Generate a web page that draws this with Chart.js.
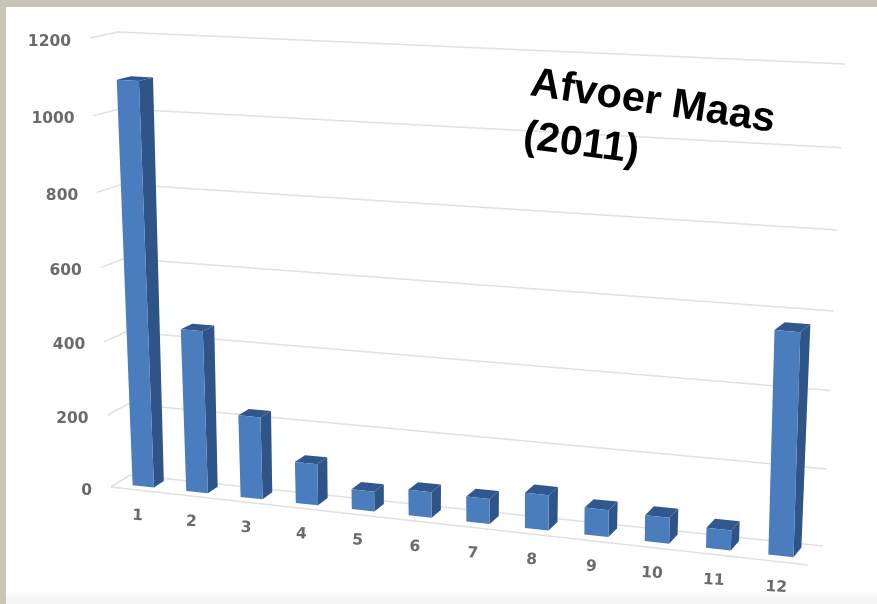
<!DOCTYPE html>
<html>
<head>
<meta charset="utf-8">
<title>Afvoer Maas (2011)</title>
<script src="https://cdn.jsdelivr.net/npm/chart.js@4"></script>
<style>
    html, body { margin: 0; padding: 0; background: #c8c5b9; overflow: hidden; }
    #panel {
        position: absolute; left: 6px; top: 7px; width: 871px; height: 597px;
        background: linear-gradient(to bottom, #fff 0, #fff 583px, #f5f5f5 592px, #f5f5f5 100%);
    }
    #afvoer { position: absolute; left: 0; top: 0; filter: blur(0.6px); }
</style>
</head>
<body>
<div id="panel"></div>
<canvas id="afvoer" width="877" height="604"></canvas>
<script>
const months = ['1', '2', '3', '4', '5', '6', '7', '8', '9', '10', '11', '12'];
const afvoer = [1090, 443, 224, 112, 54, 69, 67, 94, 71, 68, 52, 570];
const yTicks = [0, 200, 400, 600, 800, 1000, 1200];
const titleLines = ['Afvoer Maas', '(2011)'];

// corners of the tilted box: bottom-left, bottom-right, top-right, top-left
const backWall = [[130, 475], [823, 546], [845, 64], [118, 32]];
const frontWall = [[111, 487], [808, 565], [821, 75], [90, 38]];
const barFront = 0.7;
const barBack = 0.18;

function homography(q) {
    const [[x0, y0], [x1, y1], [x2, y2], [x3, y3]] = q;
    const sx = x0 - x1 + x2 - x3, sy = y0 - y1 + y2 - y3;
    const dx1 = x1 - x2, dx2 = x3 - x2, dy1 = y1 - y2, dy2 = y3 - y2;
    const den = dx1 * dy2 - dx2 * dy1;
    const g = (sx * dy2 - dx2 * sy) / den;
    const h = (dx1 * sy - sx * dy1) / den;
    const a = x1 - x0 + g * x1, b = x3 - x0 + h * x3;
    const d = y1 - y0 + g * y1, e = y3 - y0 + h * y3;
    return (u, v) => {
        const t = g * u + h * v + 1;
        return [(a * u + b * v + x0) / t, (d * u + e * v + y0) / t];
    };
}

const backMap = homography(backWall);
const frontMap = homography(frontWall);

// u along the months, v up the values, w from back wall (0) to front (1)
function project(u, v, w) {
    const p = backMap(u, v), q = frontMap(u, v);
    return [p[0] + (q[0] - p[0]) * w, p[1] + (q[1] - p[1]) * w];
}

function line(ctx, a, b) {
    ctx.beginPath();
    ctx.moveTo(a[0], a[1]);
    ctx.lineTo(b[0], b[1]);
    ctx.stroke();
}

function face(ctx, color, pts) {
    ctx.fillStyle = color;
    ctx.beginPath();
    pts.forEach((p, i) => i ? ctx.lineTo(p[0], p[1]) : ctx.moveTo(p[0], p[1]));
    ctx.closePath();
    ctx.fill();
}

const tiltPlugin = {
    id: 'tilt',
    beforeDatasetsDraw(chart) {
        const ctx = chart.ctx, y = chart.scales.y, x = chart.scales.x, area = chart.chartArea;
        ctx.save();
        ctx.strokeStyle = '#e0e0e0';
        ctx.lineWidth = 1.5;
        y.ticks.forEach(t => {
            const v = (area.bottom - y.getPixelForValue(t.value)) / area.height;
            line(ctx, project(0, v, 1), project(0, v, 0));
            line(ctx, project(0, v, 0), project(1, v, 0));
        });
        line(ctx, project(0, 0, 1), project(1, 0, 1));

        ctx.fillStyle = '#6b6b6b';
        ctx.font = 'bold 15.5px "DejaVu Sans"';
        ctx.textAlign = 'right';
        ctx.textBaseline = 'middle';
        y.ticks.forEach(t => {
            const v = (area.bottom - y.getPixelForValue(t.value)) / area.height;
            const p = project(0, v, 1);
            ctx.fillText(String(t.value), p[0] - 19, p[1] + 3.5);
        });
        ctx.textAlign = 'center';
        months.forEach((m, i) => {
            const u = (x.getPixelForValue(i) - area.left) / area.width;
            const p = project(u, 0, 1);
            ctx.save();
            ctx.translate(p[0], p[1] + 26);
            ctx.rotate(0.05);
            ctx.fillText(m, 0, 0);
            ctx.restore();
        });
        ctx.restore();
    },
    beforeDatasetDraw(chart, args) {
        const ctx = chart.ctx, area = chart.chartArea;
        const bars = chart.getDatasetMeta(args.index).data;
        ctx.save();
        bars.forEach(bar => {
            const b = bar.getProps(['x', 'y', 'base', 'width'], true);
            const u0 = (b.x - b.width / 2 - area.left) / area.width;
            const u1 = (b.x + b.width / 2 - area.left) / area.width;
            const v = (area.bottom - b.y) / area.height;
            face(ctx, '#2f5588', [project(u1, 0, barFront), project(u1, 0, barBack), project(u1, v, barBack), project(u1, v, barFront)]);
            face(ctx, '#30588f', [project(u0, v, barFront), project(u1, v, barFront), project(u1, v, barBack), project(u0, v, barBack)]);
            face(ctx, '#4a7dbe', [project(u0, 0, barFront), project(u1, 0, barFront), project(u1, v, barFront), project(u0, v, barFront)]);
        });
        ctx.restore();
        return false;
    },
    afterDatasetsDraw(chart) {
        const ctx = chart.ctx;
        ctx.save();
        ctx.fillStyle = '#000';
        ctx.font = 'bold 41.5px "Liberation Sans"';
        ctx.textBaseline = 'alphabetic';
        ctx.textAlign = 'left';
        ctx.translate(529, 95);
        ctx.rotate(0.15);
        ctx.fillText(titleLines[0], 0, 0);
        ctx.restore();
        ctx.save();
        ctx.fillStyle = '#000';
        ctx.font = 'bold 41px "Liberation Sans"';
        ctx.translate(522, 148);
        ctx.rotate(0.13);
        ctx.fillText(titleLines[1], 0, 0);
        ctx.restore();
    }
};

new Chart(document.getElementById('afvoer'), {
    type: 'bar',
    data: {
        labels: months,
        datasets: [
            {
                label: 'Afvoer Maas',
                data: afvoer,
                backgroundColor: '#4a7dbe',
                barPercentage: 0.4,
                categoryPercentage: 1,
            },
        ],
    },
    options: {
        responsive: false,
        animation: false,
        layout: { padding: 20 },
        plugins: {
            legend: { display: false },
            tooltip: { enabled: false },
        },
        scales: {
            x: { display: false },
            y: {
                display: false,
                min: yTicks[0],
                max: yTicks[yTicks.length - 1],
                ticks: { stepSize: yTicks[1] - yTicks[0] },
            },
        },
    },
    plugins: [tiltPlugin],
});
</script>
</body>
</html>
